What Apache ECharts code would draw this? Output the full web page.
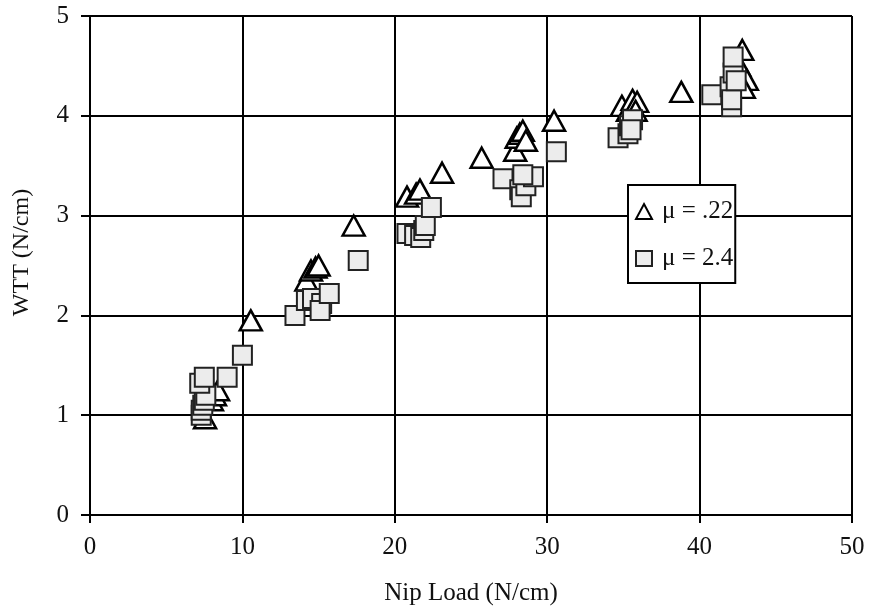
<!DOCTYPE html>
<html>
<head>
<meta charset="utf-8">
<script src="https://cdn.jsdelivr.net/npm/echarts@6/dist/echarts.min.js"></script>
<style>html,body{margin:0;padding:0;background:#fff;}#c{width:869px;height:613px;}</style>
</head>
<body>
<div id="c"></div>
<script>
// mu = .22 (triangles): [Nip Load, WTT]
const tri = [
  [7.55, 0.97], [8.0, 1.15], [8.2, 1.2], [8.4, 1.25],
  [10.55, 1.95],
  [14.2, 2.35], [14.5, 2.45], [14.8, 2.48], [15.0, 2.5],
  [17.3, 2.9],
  [20.8, 3.19], [21.4, 3.22], [21.65, 3.26], [23.1, 3.43],
  [25.7, 3.58],
  [27.9, 3.65], [28.0, 3.78], [28.2, 3.82], [28.4, 3.85], [28.6, 3.75],
  [30.45, 3.95],
  [34.9, 4.1], [35.3, 4.05], [35.6, 4.16], [35.9, 4.14], [35.8, 4.05],
  [38.8, 4.24],
  [42.8, 4.66], [42.6, 4.5], [43.1, 4.36], [42.9, 4.28]
];
// mu = 2.4 (squares)
const sq = [
  [7.3, 1.0], [7.3, 1.05], [7.4, 1.1], [7.5, 1.15], [7.6, 1.2],
  [7.2, 1.32], [7.5, 1.38], [9.0, 1.38], [10.0, 1.6],
  [13.45, 2.0],
  [14.2, 2.15], [14.6, 2.17], [15.2, 2.12], [15.1, 2.05], [15.7, 2.22],
  [17.6, 2.55],
  [20.8, 2.82], [21.3, 2.8], [21.7, 2.78], [21.9, 2.85], [22.0, 2.9], [22.4, 3.08],
  [27.1, 3.37], [28.2, 3.26], [28.3, 3.19], [28.6, 3.3], [29.1, 3.39], [28.4, 3.41],
  [30.6, 3.64],
  [34.65, 3.78], [35.3, 3.82], [35.4, 3.9], [35.6, 3.96], [35.5, 3.86],
  [40.8, 4.21], [42.0, 4.29], [42.1, 4.09], [42.1, 4.16], [42.2, 4.43], [42.2, 4.59], [42.4, 4.35]
];
const xName = 'Nip Load (N/cm)';
const yName = 'WTT (N/cm)';
const seriesNames = ['μ = .22', 'μ = 2.4'];

const font = 'Liberation Serif';
const chart = echarts.init(document.getElementById('c'));
chart.setOption({
  animation: false,
  backgroundColor: '#fff',
  grid: { left: 90, right: 17, top: 16, bottom: 98, containLabel: false },
  xAxis: {
    type: 'value', min: 0, max: 50, interval: 10,
    name: xName, nameLocation: 'middle', nameGap: 66,
    nameTextStyle: { fontFamily: font, fontSize: 25, color: '#111' },
    axisLine: { show: true, onZero: false, lineStyle: { color: '#000', width: 2 } },
    axisTick: { show: true, length: 8, lineStyle: { color: '#000', width: 2 } },
    axisLabel: { fontFamily: font, fontSize: 25, color: '#111', margin: 20 },
    splitLine: { show: true, lineStyle: { color: '#000', width: 2 } }
  },
  yAxis: {
    type: 'value', min: 0, max: 5, interval: 1,
    name: yName, nameLocation: 'middle', nameGap: 56, nameRotate: 90,
    nameTextStyle: { fontFamily: font, fontSize: 24, color: '#111', padding: [0, 0, 0, 26] },
    axisLine: { show: true, onZero: false, lineStyle: { color: '#000', width: 2 } },
    axisTick: { show: true, length: 9, lineStyle: { color: '#000', width: 2 } },
    axisLabel: { fontFamily: font, fontSize: 25, color: '#111', margin: 21 },
    splitLine: { show: true, lineStyle: { color: '#000', width: 2 } }
  },
  legend: {
    orient: 'vertical', left: 628, top: 185,
    padding: [14, 2, 12, 7], itemGap: 22,
    itemWidth: 16, itemHeight: 15,
    backgroundColor: '#fff', borderColor: '#000', borderWidth: 2,
    textStyle: { fontFamily: font, fontSize: 25, color: '#111', padding: [0, 0, 0, 5] },
    data: [
      { name: seriesNames[0], icon: 'triangle' },
      { name: seriesNames[1], icon: 'rect' }
    ]
  },
  series: [
    {
      name: seriesNames[0], type: 'scatter', symbol: 'triangle', symbolSize: [22, 20],
      itemStyle: { color: '#fff', borderColor: '#000', borderWidth: 2.5, opacity: 1 },
      data: tri
    },
    {
      name: seriesNames[1], type: 'scatter', symbol: 'rect', symbolSize: 19,
      itemStyle: { color: '#ececec', borderColor: '#222', borderWidth: 2, opacity: 1 },
      data: sq
    }
  ]
});
</script>
</body>
</html>
